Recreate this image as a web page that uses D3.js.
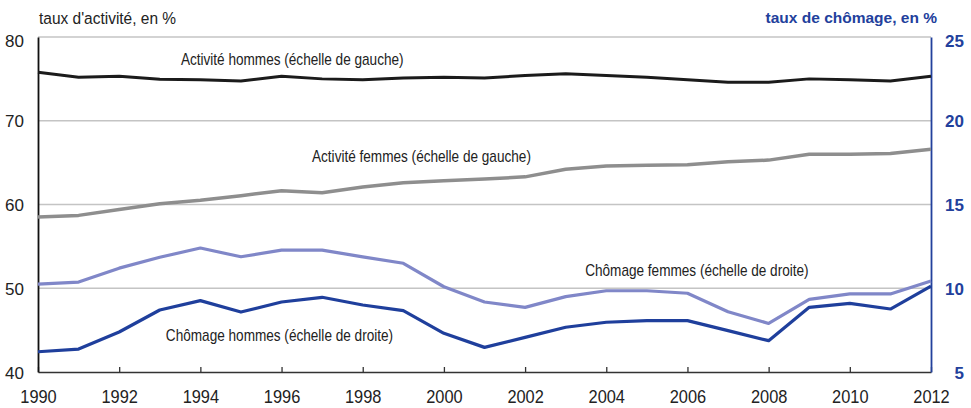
<!DOCTYPE html>
<html>
<head>
<meta charset="utf-8">
<script src="https://cdn.jsdelivr.net/npm/d3@7"></script>
<style>
  html, body { margin: 0; padding: 0; background: #fff; }
  svg { display: block; }
  text { font-family: "Liberation Sans Narrow", "Arial Narrow", "Liberation Sans", Arial, sans-serif; }
</style>
</head>
<body>
<svg id="chart" width="971" height="408"></svg>
<script>
// Years on the horizontal axis
const years = d3.range(1990, 2013);

// Activity rates (left scale, %)
const activiteHommes = [75.8, 75.2, 75.3, 74.95, 74.9, 74.75, 75.3, 75.0, 74.9, 75.1, 75.2, 75.1, 75.4, 75.6, 75.4, 75.2, 74.9, 74.6, 74.6, 75.0, 74.9, 74.75, 75.3];
const activiteFemmes = [58.5, 58.7, 59.4, 60.1, 60.5, 61.05, 61.65, 61.4, 62.1, 62.6, 62.85, 63.05, 63.3, 64.2, 64.6, 64.7, 64.75, 65.1, 65.3, 66.0, 66.0, 66.1, 66.6];

// Unemployment rates (right scale, %)
const chomageFemmes = [10.25, 10.37, 11.2, 11.85, 12.4, 11.88, 12.28, 12.28, 11.87, 11.49, 10.09, 9.18, 8.86, 9.5, 9.85, 9.85, 9.7, 8.6, 7.9, 9.34, 9.66, 9.66, 10.43];
const chomageHommes = [6.21, 6.37, 7.39, 8.7, 9.26, 8.58, 9.18, 9.46, 9.0, 8.66, 7.31, 6.47, 7.07, 7.67, 7.97, 8.07, 8.07, 7.47, 6.87, 8.86, 9.1, 8.76, 10.13];

// Axis ticks
const leftTicks = [40, 50, 60, 70, 80];
const rightTicks = [5, 10, 15, 20, 25];
const yearTicks = d3.range(1990, 2013, 2);

const svg = d3.select("#chart");
const m = { left: 38, right: 931, top: 37, bottom: 372 };

const x = d3.scaleLinear().domain([1990, 2012]).range([m.left, m.right]);
const yL = d3.scaleLinear().domain([40, 80]).range([m.bottom, m.top]);
const yR = d3.scaleLinear().domain([5, 25]).range([m.bottom, m.top]);

const blue = "#22409c";

// Horizontal gridlines
svg.append("g")
  .selectAll("line")
  .data(leftTicks.filter(d => d > 40))
  .join("line")
  .attr("x1", m.left).attr("x2", m.right)
  .attr("y1", d => yL(d)).attr("y2", d => yL(d))
  .attr("stroke", "#c4c4c4").attr("stroke-width", 1.3);

// Bottom axis (ticks point up into the plot)
const xAxis = svg.append("g").attr("transform", `translate(0,${m.bottom})`)
  .call(d3.axisBottom(x).tickValues(yearTicks).tickFormat(d3.format("d")).tickSizeInner(-5).tickSizeOuter(0).tickPadding(18));
xAxis.select(".domain").attr("stroke", "#333").attr("stroke-width", 1.6);
xAxis.selectAll(".tick line").attr("stroke", "#333").attr("stroke-width", 1.3);
xAxis.selectAll("text").attr("font-size", 18).attr("fill", "#222")
  .attr("transform", "scale(0.91,1)")
  .attr("x", 0);

// Left axis
const yAxisL = svg.append("g").attr("transform", `translate(${m.left},0)`)
  .call(d3.axisLeft(yL).tickValues(leftTicks).tickSize(0).tickPadding(14));
yAxisL.select(".domain").attr("stroke", "#111").attr("stroke-width", 1.8);
yAxisL.selectAll("text").attr("font-size", 17).attr("fill", "#222")
  .attr("dy", d => d === 80 ? "0.55em" : "0.36em");

// Right axis
const yAxisR = svg.append("g").attr("transform", `translate(${m.right},0)`)
  .call(d3.axisRight(yR).tickValues(rightTicks).tickSize(0).tickPadding(33));
yAxisR.select(".domain").attr("stroke", blue).attr("stroke-width", 1.8);
yAxisR.selectAll("text").attr("font-size", 17).attr("font-weight", "bold").attr("fill", blue)
  .attr("text-anchor", "end")
  .attr("dy", d => d === 25 ? "0.55em" : "0.36em");

// Axis titles
svg.append("text").attr("transform", "translate(39,24) scale(0.91,1)")
  .attr("font-size", 17).attr("fill", "#222")
  .text("taux d'activité, en %");
svg.append("text").attr("x", 937).attr("y", 23).attr("font-size", 15.5).attr("font-weight", "bold")
  .attr("fill", blue).attr("text-anchor", "end").text("taux de chômage, en %");

// Series lines
const series = [
  { values: activiteHommes, y: yL, color: "#1b1b1b", width: 3 },
  { values: activiteFemmes, y: yL, color: "#8e8e8e", width: 3.5 },
  { values: chomageFemmes, y: yR, color: "#8087c8", width: 3.2 },
  { values: chomageHommes, y: yR, color: "#1f3f9c", width: 3.2 }
];
series.forEach(s => {
  const line = d3.line().x((d, i) => x(years[i])).y(d => s.y(d));
  svg.append("path").datum(s.values)
    .attr("d", line)
    .attr("fill", "none")
    .attr("stroke", s.color)
    .attr("stroke-width", s.width)
    .attr("stroke-linejoin", "round");
});

// Series labels, set in a condensed width
const labels = [
  { text: "Activité hommes (échelle de gauche)", year: 1993.52, value: 76.66, y: yL },
  { text: "Activité femmes (échelle de gauche)", year: 1996.75, value: 65.1, y: yL },
  { text: "Chômage femmes (échelle de droite)", year: 2003.48, value: 10.73, y: yR },
  { text: "Chômage hommes (échelle de droite)", year: 1993.15, value: 6.87, y: yR }
];
svg.append("g").selectAll("text").data(labels).join("text")
  .attr("transform", d => `translate(${x(d.year)},${d.y(d.value)}) scale(0.85,1)`)
  .attr("font-size", 16)
  .attr("fill", "#222")
  .text(d => d.text);
</script>
</body>
</html>
